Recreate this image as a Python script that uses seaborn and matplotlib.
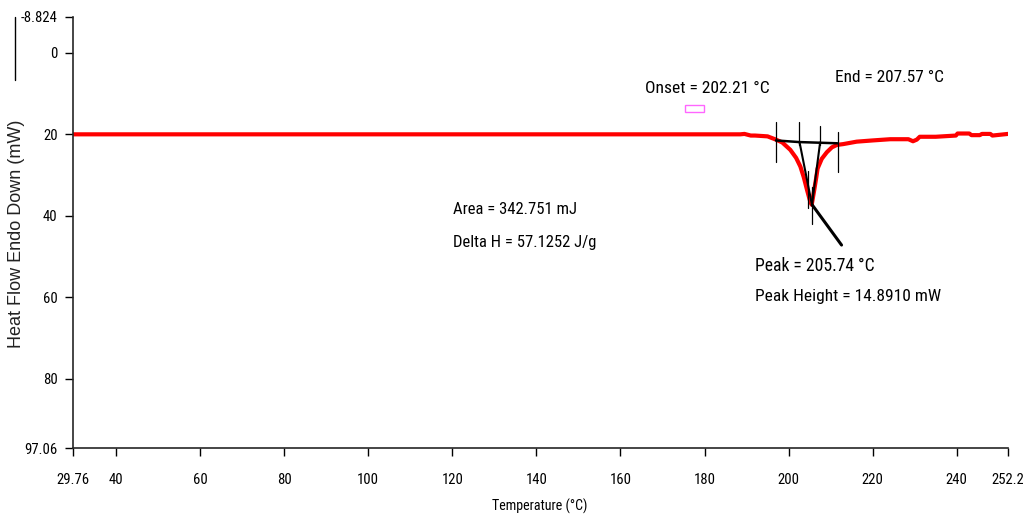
import matplotlib
matplotlib.use("Agg")
import matplotlib.pyplot as plt
import seaborn as sns
import pandas as pd
from matplotlib.patches import Rectangle
from matplotlib import font_manager as fm

# ---- data ----
temperature = [29.76, 60, 100, 140, 180, 188.5, 189.5, 191.0, 192.0, 195.0, 196.0,
               197.0, 198.5, 200.4, 201.8, 202.8, 203.6, 204.4, 205.0, 205.5,
               206.1, 206.6, 206.9, 207.9, 209.1, 210.3, 211.5, 213.0, 216.2,
               220.0, 224.2, 228.5, 229.6, 230.5, 231.2, 235.0, 239.8, 240.2,
               243.0, 243.5, 245.5, 246.0, 248.0, 248.5, 252.2]
heat_flow = [20.0, 20.0, 20.0, 20.0, 20.0, 20.0, 19.9, 20.3, 20.3, 20.5, 20.9,
             21.3, 22.0, 23.8, 25.8, 27.9, 30.5, 33.7, 36.0, 37.3,
             33.7, 30.5, 28.4, 26.0, 24.4, 23.2, 22.6, 22.4, 21.8,
             21.5, 21.2, 21.2, 21.7, 21.3, 20.6, 20.6, 20.3, 19.8,
             19.8, 20.2, 20.2, 19.9, 19.9, 20.3, 19.9]

x_ticks = [29.76, 40, 60, 80, 100, 120, 140, 160, 180, 200, 220, 240, 252.2]
x_tick_labels = ["29.76", "40", "60", "80", "100", "120", "140", "160", "180", "200", "220", "240", "252.2"]
y_ticks = [-8.824, 0, 20, 40, 60, 80, 97.06]
y_tick_labels = ["-8.824", "0", "20", "40", "60", "80", "97.06"]

# analysis markers
baseline_x = [197.0, 202.5, 211.6]
baseline_y = [21.5, 21.9, 22.2]
marker_x = [197.0, 202.5, 207.5, 211.7]
marker_top = [16.9, 16.9, 18.0, 19.5]
marker_bot = [26.7, 22.5, 22.5, 29.3]
onset_tangent_x = [202.6, 205.6]
onset_tangent_y = [21.9, 37.5]
end_tangent_x = [207.5, 205.6]
end_tangent_y = [22.0, 37.0]
peak_marks_x = [204.6, 205.6]
peak_marks_top = [29.0, 33.0]
peak_marks_bot = [38.0, 42.0]
peak_leader_x = [205.6, 212.6]
peak_leader_y = [37.3, 47.2]

df = pd.DataFrame({"Temperature": temperature, "HeatFlow": heat_flow})

sns.set_style("ticks")
plt.rcParams["font.family"] = ["Liberation Sans", "DejaVu Sans"]

# ---- look for a narrow / condensed font ----
def find_narrow():
    prefs = ["liberationsansnarrow-regular", "arialn", "robotocondensed-regular",
             "opensans_condensed-regular", "opensans-condensed", "notosans-condensed",
             "dejavusanscondensed."]
    files = [f.fname for f in fm.fontManager.ttflist]
    for p in prefs:
        for fn in files:
            if p in fn.lower().replace(" ", ""):
                return fn
    for f in fm.fontManager.ttflist:
        n = (f.name + " " + f.fname).lower()
        if ("narrow" in n or "condensed" in n) and "bold" not in n and "italic" not in n \
                and "oblique" not in n and "light" not in n:
            return f.fname
    return None

narrow_path = find_narrow()
def narrow_fp(size):
    if narrow_path:
        return fm.FontProperties(fname=narrow_path, size=size)
    return fm.FontProperties(family=["Liberation Sans", "DejaVu Sans"], size=size)

fig = plt.figure(figsize=(10.23, 5.2), dpi=100)
ax = fig.add_axes([73 / 1023, 1 - 448 / 520, (1008 - 73) / 1023, (448 - 17) / 520])

sns.lineplot(data=df, x="Temperature", y="HeatFlow", ax=ax, color="#ff0000",
             linewidth=3, zorder=2)

# analysis lines
ax.plot(baseline_x, baseline_y, color="black", lw=1.8, zorder=3)
for xm, t, b in zip(marker_x, marker_top, marker_bot):
    ax.plot([xm, xm], [t, b], color="black", lw=0.9, zorder=3)
ax.plot(onset_tangent_x, onset_tangent_y, color="black", lw=1.5, zorder=3)
ax.plot(end_tangent_x, end_tangent_y, color="black", lw=1.5, zorder=3)
for xm, t, b in zip(peak_marks_x, peak_marks_top, peak_marks_bot):
    ax.plot([xm, xm], [t, b], color="black", lw=0.9, zorder=3)
ax.plot(peak_leader_x, peak_leader_y, color="black", lw=2.2, zorder=3)

ax.add_patch(Rectangle((175.3, 12.8), 4.6, 1.6, fill=False, edgecolor="#ff66ff", lw=1.0))

ax.set_xlim(29.76, 252.2)
ax.set_ylim(97.06, -8.824)
ax.set_xticks(x_ticks)
ax.set_xticklabels(x_tick_labels)
ax.set_yticks(y_ticks)
ax.set_yticklabels(y_tick_labels)
ax.tick_params(axis="both", length=6, width=1, color="black", labelcolor="black")
ax.tick_params(axis="x", pad=12)
ax.tick_params(axis="y", pad=5)
sns.despine(ax=ax)
ax.spines["left"].set_linewidth(1.2)
ax.spines["bottom"].set_linewidth(1.2)
ax.set_xlabel("")
ax.set_ylabel("")

renderer = fig.canvas.get_renderer()

def fit(t, target_w, base=12.0, boost=1.0):
    t.set_fontproperties(narrow_fp(base))
    w = t.get_window_extent(renderer).width
    s = base * target_w / w * boost
    t.set_fontproperties(narrow_fp(s))
    return s

def label(px, py, s, target_w, ha="left"):
    t = fig.text(px / 1023, 1 - py / 520, s, va="center", ha=ha, color="black")
    fit(t, target_w, boost=1.06)
    return t

label(645, 88, "Onset = 202.21 °C", 117)
label(835, 78, "End = 207.57 °C", 103)
label(453, 210, "Area = 342.751 mJ", 117)
label(453, 242, "Delta H = 57.1252 J/g", 135)
label(755, 266, "Peak = 205.74 °C", 113)
label(755, 297, "Peak Height = 14.8910 mW", 175)
label(540, 506, "Temperature (°C)", 90, ha="center")

# tick labels sized so that "29.76" is ~33 px wide
probe = fig.text(0, 0, "29.76")
tick_size = fit(probe, 33)
probe.remove()
for lbl in ax.get_xticklabels() + ax.get_yticklabels():
    lbl.set_fontproperties(narrow_fp(tick_size))

# y label
fig.text(0.0165, 1 - 234 / 520, "Heat Flow Endo Down (mW)", rotation=90, va="center",
         ha="center", family=["Liberation Sans", "DejaVu Sans"], fontsize=13,
         color="#222222")
fig.add_artist(plt.Line2D([15 / 1023, 15 / 1023], [1 - 17 / 520, 1 - 80 / 520],
                          color="black", lw=1))

fig.savefig("out.png", dpi=100)
